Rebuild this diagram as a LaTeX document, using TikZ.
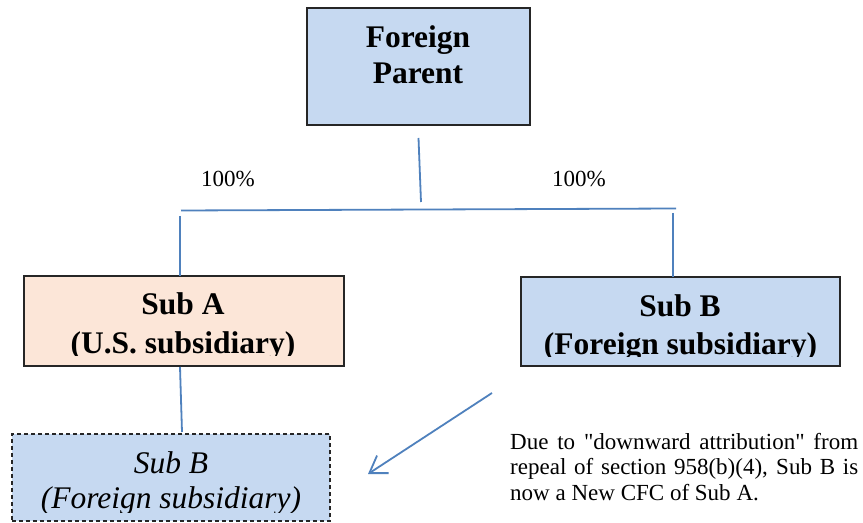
\documentclass[tikz,border=0pt]{standalone}
\usepackage{fontspec}
\setmainfont{Liberation Serif}
\newfontfamily\plainserif{Liberation Serif}[Ligatures=TeXOff]
\usetikzlibrary{arrows.meta,calc}
\definecolor{lineblue}{HTML}{4F81BD}
\definecolor{boxblue}{HTML}{C6D9F1}
\definecolor{peach}{HTML}{FCE6D8}
\begin{document}
\begin{tikzpicture}[x=1bp,y=-1bp,
  box/.style={draw=black!85, line width=1.3bp, inner sep=0pt, outer sep=0pt},
  conn/.style={draw=lineblue, line width=1.8bp},
  bigbold/.style={font=\fontsize{31.6}{36}\selectfont\bfseries, inner sep=0pt, anchor=base},
  bigit/.style={font=\fontsize{31.6}{36}\selectfont\itshape, inner sep=0pt, anchor=base},
  smalltxt/.style={font=\plainserif\fontsize{23.1}{25.5}\selectfont, inner sep=0pt, anchor=base west}]
\useasboundingbox (0,0) rectangle (863,523);
\fill[white] (0,0) rectangle (863,523);

% boxes
\node[box, fill=boxblue, minimum width=223bp, minimum height=117bp] (fp) at (418.5,66.5) {};
\node[box, fill=peach, minimum width=320bp, minimum height=90bp] (sa) at (184,321) {};
\node[box, fill=boxblue, minimum width=319bp, minimum height=89bp] (sb) at (680.5,321.5) {};
\node[box, fill=boxblue, dash pattern=on 4bp off 3bp, minimum width=318bp, minimum height=87bp] (sbb) at (171,477.5) {};

% texts
\node[bigbold] (fp1) at (418,48) {Foreign};
\node[bigbold] (fp2) at (418,84) {Parent};
\node[bigbold] (sa1) at (183,315) {Sub A};
\begin{scope}
  \clip (24,330) rectangle (344,355.5);
  \node[bigbold] (sa2) at (183,353) {(U.S. subsidiary)};
\end{scope}
\node[bigbold] (sb1) at (680,317) {Sub B};
\begin{scope}
  \clip (521,330) rectangle (840,356.5);
  \node[bigbold] (sb2) at (680.5,354) {(Foreign subsidiary)};
\end{scope}
\node[bigit] (sbb1) at (171,473) {Sub B};
\begin{scope}
  \clip (12,480) rectangle (330,512);
  \node[bigit] (sbb2) at (171,508) {(Foreign subsidiary)};
\end{scope}

\node[smalltxt] (pl) at (201,187) {100\%};
\node[smalltxt] (pr) at (552,187) {100\%};

\node[smalltxt] (n1) at (510,449) {\makebox[348bp][s]{Due to "downward attribution" from}};
\node[smalltxt] (n2) at (510,474.5) {\makebox[348bp][s]{repeal of section 958(b)(4), Sub B is}};
\node[smalltxt] (n3) at (510,500) {now a New CFC of Sub A.};

% connectors
\coordinate (pm1) at ($(fp.south)+(0,13)$);
\coordinate (pm2) at (421,202);
\coordinate (busL) at (181,210.5);
\coordinate (busR) at (676,208.5);
\coordinate (vl) at (180,216);
\coordinate (vr) at (673,213);
\coordinate (xa) at (180,0);
\coordinate (xb) at (182,0);
\draw[conn] (pm1) -- (pm2);
\draw[conn] (busL) -- (busR);
\draw[conn] (vl) -- (sa.north -| vl);
\draw[conn] (vr) -- (sb.north -| vr);
\draw[conn] ($(sa.south -| xa)+(0,1)$) -- ($(sbb.north -| xb)+(0,-2)$);

\coordinate (arrS) at (492,393);
\coordinate (arrE) at (368,474);
\draw[conn, -{Straight Barb[length=16bp,width=21bp,line width=1.8bp]}] (arrS) -- (arrE);
\end{tikzpicture}
\end{document}
